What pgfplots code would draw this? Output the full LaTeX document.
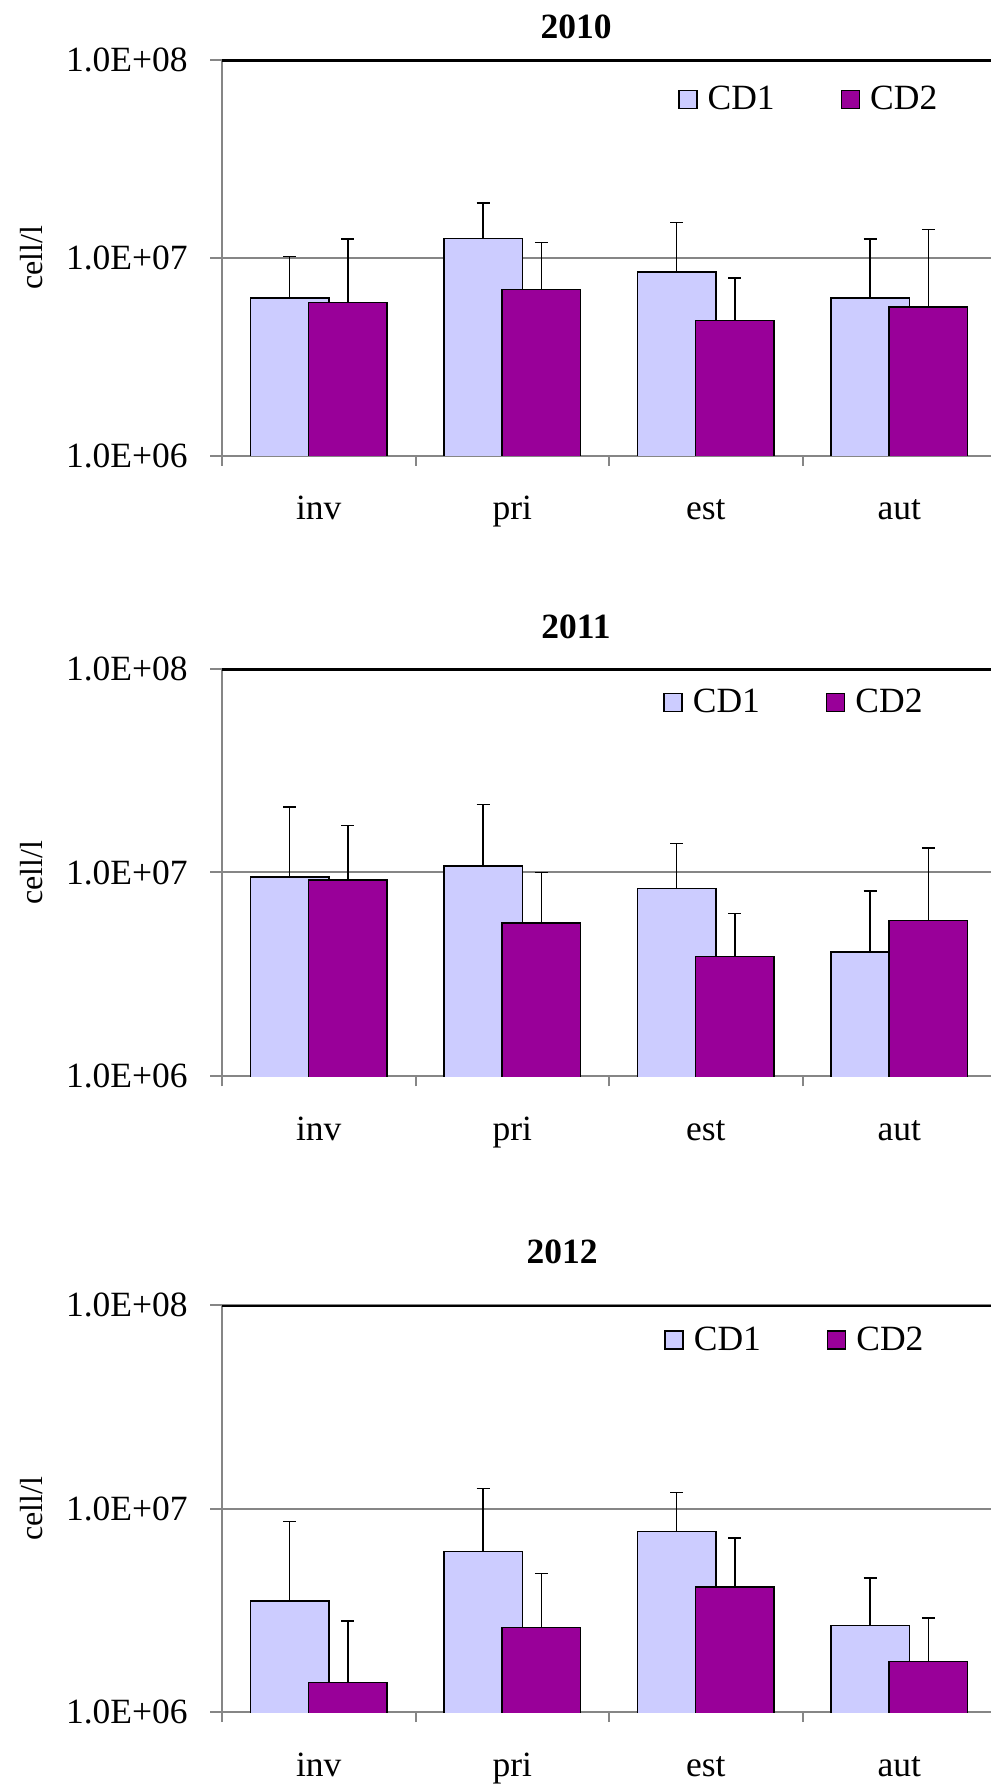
\documentclass[border=0pt]{standalone}
\usepackage{fontspec}
\setmainfont{Liberation Serif}
\usepackage{pgfplots}
\usepackage{pgfplotstable}
\pgfplotsset{compat=1.18}

\definecolor{cdone}{HTML}{CCCCFF}
\definecolor{cdtwo}{HTML}{990099}
\definecolor{axgray}{HTML}{868686}

% x: 0=inv 1=pri 2=est 3=aut ; e = upper error (top - mean)
\pgfplotstableread{
x  y1      e1       y2      e2
0  6.28e6  3.92e6   5.95e6  6.55e6
1  1.25e7  6.50e6   6.95e6  5.05e6
2  8.50e6  6.60e6   4.84e6  3.08e6
3  6.28e6  6.22e6   5.66e6  8.24e6
}\tabA
\pgfplotstableread{
x  y1      e1       y2      e2
0  9.50e6  1.15e7   9.20e6  7.80e6
1  1.075e7 1.075e7  5.66e6  4.34e6
2  8.36e6  5.54e6   3.87e6  2.41e6
3  4.07e6  4.06e6   5.82e6  7.38e6
}\tabB
\pgfplotstableread{
x  y1      e1       y2      e2
0  3.52e6  5.11e6   1.40e6  1.40e6
1  6.16e6  6.44e6   2.60e6  2.20e6
2  7.75e6  4.25e6   4.12e6  3.06e6
3  2.66e6  1.90e6   1.77e6  1.14e6
}\tabC

\newcommand{\bigfont}{\fontsize{17.75}{20}\selectfont}

\begin{document}
\begin{tikzpicture}

% ---------------- 2010
\begin{axis}[scale only axis, width=387pt, height=198pt,
  at={(111pt,665.5pt)}, anchor=south west,
  ymode=log, ymin=1e6, ymax=1e8, xmin=-0.5, xmax=3.5,
  axis lines*=left, axis line style={axgray, line width=1pt},
  ytick={1e6,1e7,1e8}, yticklabels={1.0E+06,1.0E+07,1.0E+08},
  yminorticks=false, ymajorgrids, grid style={axgray, line width=1pt},
  xtick={0,1,2,3}, xticklabels={inv,pri,est,aut},
  minor xtick={-0.5,0.5,1.5,2.5,3.5},
  tick align=outside, tick style={axgray, line width=1pt},
  major x tick style={draw=none},
  major tick length=6pt, minor tick length=5pt,
  tick label style={font=\bigfont},
  yticklabel style={anchor=east, inner sep=0pt, xshift=-11pt},
  xticklabel style={anchor=base, inner sep=0pt, yshift=-26pt},
  ylabel={cell/l},
  ylabel style={at={(axis description cs:-0.2455,0.5)}, anchor=center, font=\fontsize{16}{18}\selectfont},
  legend columns=2,
  legend image code/.code={\draw[#1, draw=black, line width=0.75pt] (0pt,-4.5pt) rectangle (9pt,4.5pt);},
  legend style={draw=none, fill=none, inner sep=0pt, font=\bigfont,
    at={(rel axis cs:0.5888,0.900)}, anchor=west,
    /tikz/every odd column/.append style={column sep=3pt},
    /tikz/every even column/.append style={column sep=31pt}}]
\addplot[ybar, bar width=0.405, bar shift=0pt, draw=black, line width=0.7pt, fill=cdone,
  error bars/y dir=plus, error bars/y explicit,
  error bars/error bar style={black, line width=0.75pt},
  error bars/error mark options={rotate=90, black, mark size=3.25pt, line width=0.75pt}]
  table[x expr=\thisrow{x}-0.15, y=y1, y error plus=e1] {\tabA};
\addlegendentry{CD1}
\addplot[ybar, bar width=0.405, bar shift=0pt, draw=black, line width=0.7pt, fill=cdtwo,
  error bars/y dir=plus, error bars/y explicit,
  error bars/error bar style={black, line width=0.75pt},
  error bars/error mark options={rotate=90, black, mark size=3.25pt, line width=0.75pt}]
  table[x expr=\thisrow{x}+0.15, y=y2, y error plus=e2] {\tabA};
\addlegendentry{CD2}
\draw[black, line width=2pt] (rel axis cs:0,1) -- (rel axis cs:1,1);
\end{axis}
\node[font=\bfseries\bigfont] at (288pt,880.2pt) {2010};

% ---------------- 2011
\begin{axis}[scale only axis, width=387pt, height=203.9pt,
  at={(111pt,355.3pt)}, anchor=south west,
  ymode=log, ymin=1e6, ymax=1e8, xmin=-0.5, xmax=3.5,
  axis lines*=left, axis line style={axgray, line width=1pt},
  ytick={1e6,1e7,1e8}, yticklabels={1.0E+06,1.0E+07,1.0E+08},
  yminorticks=false, ymajorgrids, grid style={axgray, line width=1pt},
  xtick={0,1,2,3}, xticklabels={inv,pri,est,aut},
  minor xtick={-0.5,0.5,1.5,2.5,3.5},
  tick align=outside, tick style={axgray, line width=1pt},
  major x tick style={draw=none},
  major tick length=6pt, minor tick length=5pt,
  tick label style={font=\bigfont},
  yticklabel style={anchor=east, inner sep=0pt, xshift=-11pt},
  xticklabel style={anchor=base, inner sep=0pt, yshift=-26pt},
  ylabel={cell/l},
  ylabel style={at={(axis description cs:-0.2455,0.5)}, anchor=center, font=\fontsize{16}{18}\selectfont},
  legend columns=2,
  legend image code/.code={\draw[#1, draw=black, line width=0.75pt] (0pt,-4.5pt) rectangle (9pt,4.5pt);},
  legend style={draw=none, fill=none, inner sep=0pt, font=\bigfont,
    at={(rel axis cs:0.5698,0.917)}, anchor=west,
    /tikz/every odd column/.append style={column sep=3pt},
    /tikz/every even column/.append style={column sep=31pt}}]
\addplot[ybar, bar width=0.405, bar shift=0pt, draw=black, line width=0.7pt, fill=cdone,
  error bars/y dir=plus, error bars/y explicit,
  error bars/error bar style={black, line width=0.75pt},
  error bars/error mark options={rotate=90, black, mark size=3.25pt, line width=0.75pt}]
  table[x expr=\thisrow{x}-0.15, y=y1, y error plus=e1] {\tabB};
\addlegendentry{CD1}
\addplot[ybar, bar width=0.405, bar shift=0pt, draw=black, line width=0.7pt, fill=cdtwo,
  error bars/y dir=plus, error bars/y explicit,
  error bars/error bar style={black, line width=0.75pt},
  error bars/error mark options={rotate=90, black, mark size=3.25pt, line width=0.75pt}]
  table[x expr=\thisrow{x}+0.15, y=y2, y error plus=e2] {\tabB};
\addlegendentry{CD2}
\draw[black, line width=2pt] (rel axis cs:0,1) -- (rel axis cs:1,1);
\end{axis}
\node[font=\bfseries\bigfont] at (288pt,579.9pt) {2011};

% ---------------- 2012
\begin{axis}[scale only axis, width=387pt, height=203.5pt,
  at={(111pt,37.4pt)}, anchor=south west,
  ymode=log, ymin=1e6, ymax=1e8, xmin=-0.5, xmax=3.5,
  axis lines*=left, axis line style={axgray, line width=1pt},
  ytick={1e6,1e7,1e8}, yticklabels={1.0E+06,1.0E+07,1.0E+08},
  yminorticks=false, ymajorgrids, grid style={axgray, line width=1pt},
  xtick={0,1,2,3}, xticklabels={inv,pri,est,aut},
  minor xtick={-0.5,0.5,1.5,2.5,3.5},
  tick align=outside, tick style={axgray, line width=1pt},
  major x tick style={draw=none},
  major tick length=6pt, minor tick length=5pt,
  tick label style={font=\bigfont},
  yticklabel style={anchor=east, inner sep=0pt, xshift=-11pt},
  xticklabel style={anchor=base, inner sep=0pt, yshift=-26pt},
  ylabel={cell/l},
  ylabel style={at={(axis description cs:-0.2455,0.5)}, anchor=center, font=\fontsize{16}{18}\selectfont},
  legend columns=2,
  legend image code/.code={\draw[#1, draw=black, line width=0.75pt] (0pt,-4.5pt) rectangle (9pt,4.5pt);},
  legend style={draw=none, fill=none, inner sep=0pt, font=\bigfont,
    at={(rel axis cs:0.571,0.914)}, anchor=west,
    /tikz/every odd column/.append style={column sep=3pt},
    /tikz/every even column/.append style={column sep=31pt}}]
\addplot[ybar, bar width=0.405, bar shift=0pt, draw=black, line width=0.7pt, fill=cdone,
  error bars/y dir=plus, error bars/y explicit,
  error bars/error bar style={black, line width=0.75pt},
  error bars/error mark options={rotate=90, black, mark size=3.25pt, line width=0.75pt}]
  table[x expr=\thisrow{x}-0.15, y=y1, y error plus=e1] {\tabC};
\addlegendentry{CD1}
\addplot[ybar, bar width=0.405, bar shift=0pt, draw=black, line width=0.7pt, fill=cdtwo,
  error bars/y dir=plus, error bars/y explicit,
  error bars/error bar style={black, line width=0.75pt},
  error bars/error mark options={rotate=90, black, mark size=3.25pt, line width=0.75pt}]
  table[x expr=\thisrow{x}+0.15, y=y2, y error plus=e2] {\tabC};
\addlegendentry{CD2}
\draw[black, line width=2pt] (rel axis cs:0,1) -- (rel axis cs:1,1);
\end{axis}
\node[font=\bfseries\bigfont] at (281pt,267.8pt) {2012};

\pgfresetboundingbox
\useasboundingbox (0,0) rectangle (495pt,893.5pt);
\end{tikzpicture}
\end{document}
